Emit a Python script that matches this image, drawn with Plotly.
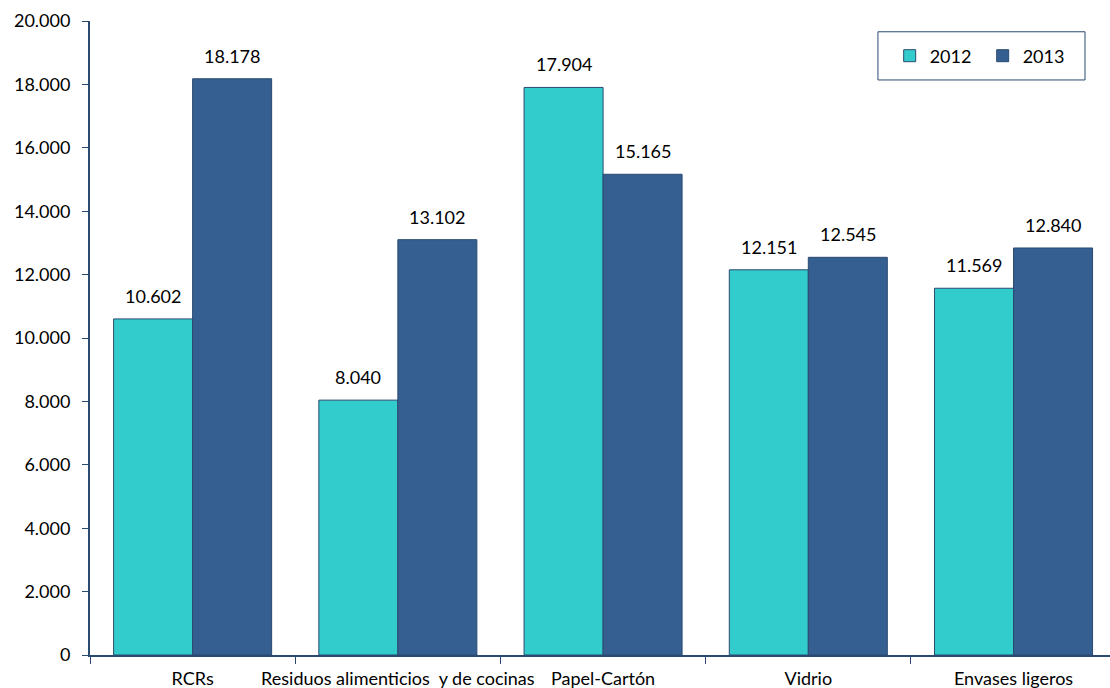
import plotly.graph_objects as go

# Toneladas recogidas por fracción y año
categorias = ["RCRs", "Residuos alimenticios  y de cocinas", "Papel-Cartón", "Vidrio", "Envases ligeros"]
valores_2012 = [10602, 8040, 17904, 12151, 11569]
valores_2013 = [18178, 13102, 15165, 12545, 12840]
etiquetas_y = [0, 2000, 4000, 6000, 8000, 10000, 12000, 14000, 16000, 18000, 20000]

color_2012 = "#33CCCC"
color_2013 = "#365F91"
color_borde = "#2B4A70"
fuente = "Lato, 'Open Sans', sans-serif"
tam = 18

fig = go.Figure()
fig.add_trace(go.Bar(
    name="2012", x=categorias, y=valores_2012,
    marker=dict(color=color_2012, line=dict(color=color_borde, width=1)),
))
fig.add_trace(go.Bar(
    name="2013", x=categorias, y=valores_2013,
    marker=dict(color=color_2013, line=dict(color=color_borde, width=1)),
))

# Etiquetas de valor sobre cada barra
bargap = 0.23
ancho = (1 - bargap) / 2
for serie, desplaz in ((valores_2012, -ancho / 2), (valores_2013, ancho / 2)):
    for i, v in enumerate(serie):
        fig.add_annotation(
            x=i + desplaz, y=v, xref="x", yref="y",
            text=f"{v:,}".replace(",", "."),
            showarrow=False, yanchor="bottom", yshift=10,
            font=dict(size=tam, color="#000000", family=fuente),
        )

# Marco de la leyenda
fig.add_shape(
    type="rect", xref="paper", yref="paper",
    x0=0.7725, x1=0.9755, y0=0.907, y1=0.983,
    line=dict(color=color_borde, width=1), fillcolor="white", layer="below",
)

fig.update_layout(
    width=1110, height=688,
    margin=dict(l=90, r=0, t=21, b=33),
    paper_bgcolor="white", plot_bgcolor="white",
    barmode="group", bargap=bargap, bargroupgap=0,
    separators=",.",
    font=dict(family=fuente, size=tam, color="#000000"),
    showlegend=True,
    legend=dict(
        orientation="h", x=0.784, xanchor="left", y=0.9448, yanchor="middle",
        borderwidth=0, bgcolor="rgba(0,0,0,0)",
        font=dict(size=tam), entrywidth=48, itemwidth=30,
    ),
    xaxis=dict(
        type="category", range=[-0.5, 4.47],
        showline=True, linecolor=color_borde, linewidth=2,
        ticks="outside", tickson="boundaries", ticklen=7, tickcolor=color_borde,
        tickangle=0, ticklabelstandoff=6,
        showgrid=False, tickfont=dict(size=tam),
    ),
    yaxis=dict(
        range=[0, 20000], tickvals=etiquetas_y, tickformat=",d",
        showline=True, linecolor=color_borde, linewidth=2,
        ticks="outside", ticklen=6, tickcolor=color_borde,
        ticklabelstandoff=8,
        showgrid=False, zeroline=False, tickfont=dict(size=tam),
    ),
)

fig.write_html("out.html")
